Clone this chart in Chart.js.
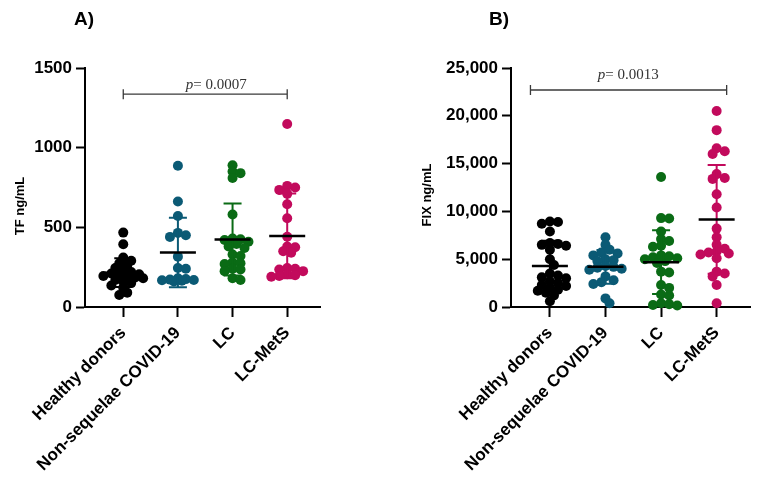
<!DOCTYPE html>
<html>
<head>
<meta charset="utf-8">
<script src="https://cdn.jsdelivr.net/npm/chart.js@4/dist/chart.umd.min.js"></script>
<style>
    body { margin: 0; background: #fff; }
    .painel { position: absolute; top: 0; width: 381px; height: 492px; }
</style>
</head>
<body>
<div class="painel" style="left:0"><canvas id="graficoTF" width="381" height="492"></canvas></div>
<div class="painel" style="left:381px"><canvas id="graficoFIX" width="381" height="492"></canvas></div>
<script>
// grupos e cores
const grupos = ['Healthy donors', 'Non-sequelae COVID-19', 'LC', 'LC-MetS'];
const cores = ['#000000', '#0b5a75', '#0a6b15', '#c20a5c'];

// A) TF ng/mL
const tfHealthy = [467, 394, 310, 290, 275, 260, 245, 230, 220, 210, 205, 200, 195, 190, 185, 180, 170, 160, 150, 135, 120, 90, 75];
const tfNonSeq = [886, 662, 571, 465, 450, 440, 316, 245, 240, 180, 175, 172, 170, 168, 165, 160];
const tfLC = [890, 850, 840, 810, 580, 430, 425, 420, 410, 395, 380, 370, 330, 320, 280, 275, 270, 240, 235, 225, 180, 170];
const tfMetS = [1149, 760, 750, 735, 710, 645, 557, 441, 380, 375, 350, 340, 245, 240, 235, 225, 205, 200, 195, 190];
const tfTicks = [0, 500, 1000, 1500];

// B) FIX ng/mL
const fixHealthy = [8950, 8900, 8700, 7900, 6700, 6600, 6500, 6400, 6000, 5000, 4400, 3500, 3300, 3100, 3000, 2700, 2500, 2300, 2200, 2000, 1800, 1700, 1500, 1200, 600];
const fixNonSeq = [7300, 6500, 5600, 5400, 6000, 5700, 5000, 4900, 4800, 4300, 4200, 4100, 4000, 3900, 3200, 2800, 2600, 2400, 900, 400];
const fixLC = [13600, 9300, 9250, 7900, 7100, 6900, 6400, 6300, 5200, 4800, 5400, 5300, 5100, 5000, 4600, 3700, 3600, 2300, 2000, 1300, 1200, 400, 300, 200, 150];
const fixMetS = [20500, 18500, 16600, 16300, 16000, 13900, 13500, 13400, 11800, 10400, 8200, 7300, 6500, 6100, 5800, 5700, 5600, 5500, 5100, 3700, 3500, 3200, 2300, 400];
const fixTicks = [0, 5000, 10000, 15000, 20000, 25000];

const RAIO = 5;
const PX_CATEGORIA = 55;
const ESPALHE_MAX = 20;

function media(v) { return v.reduce((a, b) => a + b, 0) / v.length; }
function desvio(v) {
    const m = media(v);
    return Math.sqrt(v.reduce((a, b) => a + (b - m) * (b - m), 0) / (v.length - 1));
}

// espalha os pontos na horizontal (limitado a ESPALHE_MAX px para cada lado)
function espalhar(valores, pxPorUnidade) {
    const ordem = valores.map((v, i) => i).sort((a, b) => valores[b] - valores[a]);
    const colocados = [];
    const offsets = new Array(valores.length).fill(0);
    const passo = RAIO * 0.8;
    const kMax = 2 * Math.floor(ESPALHE_MAX / passo);
    ordem.forEach(i => {
        const y = valores[i] * pxPorUnidade;
        let melhor = 0, melhorDist = -1;
        for (let k = 0; k <= kMax; k++) {
            const dx = (k % 2 ? 1 : -1) * Math.ceil(k / 2) * passo;
            const d = colocados.reduce((m, p) => Math.min(m, Math.hypot(p.x - dx, p.y - y)), Infinity);
            if (d >= RAIO * 1.15) { melhor = dx; break; }
            if (d > melhorDist) { melhorDist = d; melhor = dx; }
        }
        colocados.push({ x: melhor, y: y });
        offsets[i] = melhor;
    });
    return offsets;
}

function montarDatasets(series, pxPorUnidade) {
    return series.map((vals, g) => {
        const off = espalhar(vals, pxPorUnidade);
        return {
            label: grupos[g],
            data: vals.map((v, i) => ({ x: g + 1 + off[i] / PX_CATEGORIA, y: v })),
            backgroundColor: cores[g],
            borderWidth: 0,
            pointRadius: RAIO,
            pointHoverRadius: RAIO,
            clip: false
        };
    });
}

// media e desvio padrao
const mediaDP = {
    id: 'mediaDP',
    afterDatasetsDraw(chart, args, opts) {
        const ctx = chart.ctx, xs = chart.scales.x, ys = chart.scales.y;
        opts.series.forEach((vals, i) => {
            const m = media(vals), s = desvio(vals);
            const cx = xs.getPixelForValue(i + 1);
            const yTop = ys.getPixelForValue(m + s), yBot = ys.getPixelForValue(Math.max(m - s, 0));
            const ym = ys.getPixelForValue(m);
            ctx.save();
            ctx.strokeStyle = cores[i];
            ctx.lineWidth = 2;
            ctx.beginPath();
            ctx.moveTo(cx, yTop); ctx.lineTo(cx, yBot);
            ctx.moveTo(cx - 9, yTop); ctx.lineTo(cx + 9, yTop);
            ctx.moveTo(cx - 9, yBot); ctx.lineTo(cx + 9, yBot);
            ctx.stroke();
            ctx.strokeStyle = '#000';
            ctx.lineWidth = 2.5;
            ctx.beginPath();
            ctx.moveTo(cx - 18, ym); ctx.lineTo(cx + 18, ym);
            ctx.stroke();
            ctx.restore();
        });
    }
};

// barra do p-valor, letra do painel e titulo do eixo y
const anotacoes = {
    id: 'anotacoes',
    afterDraw(chart, args, opts) {
        const ctx = chart.ctx, xs = chart.scales.x, ys = chart.scales.y;
        const b = opts.barra;
        const x1 = xs.getPixelForValue(b.x1), x2 = xs.getPixelForValue(b.x2), y = ys.getPixelForValue(b.y);
        ctx.save();
        ctx.strokeStyle = '#3a3a3a';
        ctx.lineWidth = 1.3;
        ctx.beginPath();
        ctx.moveTo(x1, y); ctx.lineTo(x2, y);
        ctx.moveTo(x1, y - 5); ctx.lineTo(x1, y + 5);
        ctx.moveTo(x2, y - 5); ctx.lineTo(x2, y + 5);
        ctx.stroke();

        ctx.fillStyle = '#333';
        ctx.textBaseline = 'middle';
        const fonteP = 'italic 15px "Liberation Serif"', fonteN = '15px "Liberation Serif"';
        ctx.font = fonteP; const wp = ctx.measureText('p').width;
        ctx.font = fonteN; const wn = ctx.measureText('= ' + b.texto).width;
        const tx = xs.getPixelForValue(b.textoX) - (wp + wn) / 2, ty = ys.getPixelForValue(b.textoY);
        ctx.textAlign = 'left';
        ctx.font = fonteP; ctx.fillText('p', tx, ty);
        ctx.font = fonteN; ctx.fillText('= ' + b.texto, tx + wp, ty);

        ctx.fillStyle = '#000';
        ctx.textAlign = 'center';
        ctx.font = 'bold 19px "Liberation Sans"';
        ctx.fillText(opts.letra, opts.letraX, 20);

        ctx.translate(opts.tituloX, opts.tituloY);
        ctx.rotate(-Math.PI / 2);
        ctx.font = 'bold 13px "Liberation Sans"';
        ctx.fillText(opts.titulo, 0, 0);
        ctx.restore();
    }
};

function criarGrafico(id, series, ticks, formato, pxPorUnidade, larguraY, padDir, extra) {
    const ctx = document.getElementById(id).getContext('2d');
    return new Chart(ctx, {
        type: 'scatter',
        data: { datasets: montarDatasets(series, pxPorUnidade) },
        plugins: [mediaDP, anotacoes],
        options: {
            responsive: false,
            animation: false,
            events: [],
            layout: { padding: { top: 68, right: padDir, left: 0, bottom: 0 } },
            plugins: {
                legend: { display: false },
                tooltip: { enabled: false },
                mediaDP: { series: series },
                anotacoes: extra
            },
            scales: {
                x: {
                    type: 'linear',
                    min: 0.3,
                    max: 4.6,
                    afterBuildTicks: scale => { scale.ticks = [1, 2, 3, 4].map(v => ({ value: v })); },
                    afterFit: scale => { scale.height = 185; },
                    border: { color: '#000', width: 2 },
                    grid: { drawOnChartArea: false, color: '#000', tickLength: 10, tickWidth: 2 },
                    ticks: {
                        autoSkip: false,
                        minRotation: 45,
                        maxRotation: 45,
                        padding: 6,
                        color: '#000',
                        font: { family: 'Liberation Sans', size: 17, weight: 'bold' },
                        callback: v => grupos[v - 1]
                    }
                },
                y: {
                    min: 0,
                    max: ticks[ticks.length - 1],
                    afterBuildTicks: scale => { scale.ticks = ticks.map(v => ({ value: v })); },
                    afterFit: scale => { scale.width = larguraY; },
                    border: { color: '#000', width: 2 },
                    grid: { drawOnChartArea: false, color: '#000', tickLength: 9, tickWidth: 2 },
                    ticks: {
                        padding: 4,
                        color: '#000',
                        font: { family: 'Liberation Sans', size: 17, weight: 'bold' },
                        callback: formato
                    }
                }
            }
        }
    });
}

criarGrafico('graficoTF', [tfHealthy, tfNonSeq, tfLC, tfMetS], tfTicks, v => String(v), 239 / 1500, 85, 61, {
    barra: { x1: 1, x2: 4, y: 1336, texto: '0.0007', textoX: 2.7, textoY: 1394 },
    letra: 'A)', letraX: 84,
    titulo: 'TF ng/mL', tituloX: 20, tituloY: 206
});
criarGrafico('graficoFIX', [fixHealthy, fixNonSeq, fixLC, fixMetS], fixTicks, v => v.toLocaleString('en-US'), 239 / 25000, 130, 12, {
    barra: { x1: 0.65, x2: 4.18, y: 22700, texto: '0.0013', textoX: 2.41, textoY: 24270 },
    letra: 'B)', letraX: 118,
    titulo: 'FIX ng/mL', tituloX: 46, tituloY: 195
});
</script>
</body>
</html>
